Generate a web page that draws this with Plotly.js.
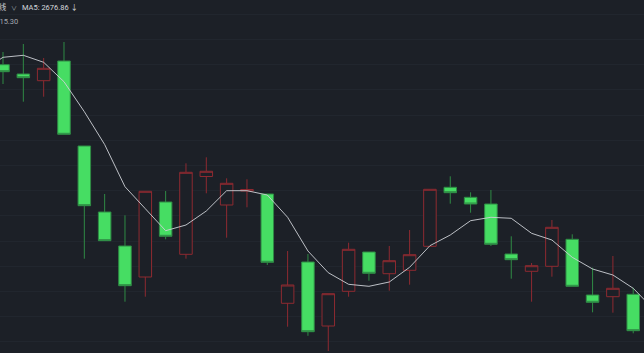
<!DOCTYPE html>
<html>
<head>
<meta charset="utf-8">
<script src="https://cdn.plot.ly/plotly-3.0.1.min.js"></script>
<style>
html,body{margin:0;padding:0;background:#1c2027;}
#chart{width:644px;height:353px;}
</style>
</head>
<body>
<div id="chart"></div>
<script>
// candle positions (session index)
const xIdx = [0,1,2,3,4,5,6,7,8,9,10,11,12,13,14,15,16,17,18,19,20,21,22,23,24,25,26,27,28,29,30,31];
const openP  = [2893.32,2884.32,2877.83,2896.91,2814.62,2750.72,2717.81,2687.80,2760.40,2709.77,2785.09,2757.50,2771.05,2768.15,2662.34,2702.32,2640.36,2673.95,2712.00,2690.99,2694.28,2717.52,2774.63,2764.95,2758.47,2710.06,2693.31,2698.15,2724.29,2670.37,2668.73,2671.05];
const highP  = [2905.62,2913.36,2899.81,2915.30,2814.62,2768.15,2747.53,2770.76,2771.05,2797.87,2803.68,2783.35,2782.38,2768.15,2712.97,2710.06,2671.63,2721.00,2712.00,2717.81,2733.30,2772.70,2785.28,2769.79,2772.02,2727.20,2701.35,2742.98,2729.13,2696.80,2708.13,2677.44];
const lowP   = [2874.64,2857.50,2862.34,2825.94,2705.51,2722.94,2663.88,2668.73,2724.29,2705.51,2768.83,2725.84,2755.27,2699.41,2639.68,2630.87,2616.16,2668.73,2684.21,2674.53,2680.34,2717.52,2758.76,2750.04,2717.81,2686.15,2663.88,2688.09,2678.79,2653.62,2653.24,2633.29];
const closeP = [2886.55,2880.74,2889.84,2825.94,2756.82,2722.94,2679.37,2770.76,2727.20,2789.16,2790.13,2778.51,2772.51,2702.03,2680.05,2634.84,2671.63,2714.61,2691.38,2703.58,2709.38,2772.70,2769.41,2758.47,2719.45,2704.54,2698.74,2735.91,2678.79,2663.30,2676.86,2635.81];

// MA5 line (includes one point beyond each edge)
const maX  = [-1,0,1,2,3,4,5,6,7,8,9,10,11,12,13,14,15,16,17,18,19,20,21,22,23,24,25,26,27,28,29,30,31,32];
const ma5  = [2887.42,2900.49,2902.42,2895.65,2876.87,2847.82,2816.07,2775.22,2753.92,2732.62,2738.14,2751.69,2771.34,2771.34,2767.18,2745.59,2712.97,2691.96,2680.73,2678.79,2682.96,2697.19,2718.10,2728.46,2742.30,2745.59,2744.63,2730.10,2723.62,2706.87,2695.54,2689.73,2676.86,2656.62];

const headerLeft = "K线";
const headerChevron = "∨";
const headerMA = "MA5: 2676.86 ↓";
const maxLabel = "2915.30";

const BG = "#1c2027";
const W = 644, H = 353;

const traces = [
  {
    type: "candlestick",
    x: xIdx, open: openP, high: highP, low: lowP, close: closeP,
    increasing: {line: {color: "#8e2a31", width: 1}, fillcolor: BG},
    decreasing: {line: {color: "#2f8a45", width: 1}, fillcolor: "#46dd63"},
    whiskerwidth: 0,
    hoverinfo: "skip",
    showlegend: false
  },
  {
    type: "scatter", mode: "lines",
    x: maX, y: ma5,
    line: {color: "rgba(205,208,214,0.9)", width: 1},
    hoverinfo: "skip", showlegend: false
  }
];

const fontFam = "Roboto, 'Noto Sans CJK SC', sans-serif";
const layout = {
  width: W, height: H,
  margin: {l: 0, r: 0, t: 0, b: 0, pad: 0},
  paper_bgcolor: BG, plot_bgcolor: BG,
  boxgap: 0.384, boxgroupgap: 0,
  showlegend: false,
  xaxis: {
    range: [-0.1476, 31.53], showgrid: false, zeroline: false,
    showticklabels: false, ticks: "", showline: false,
    rangeslider: {visible: false}, fixedrange: true
  },
  yaxis: {
    range: [2614.22, 2955.96], showgrid: true, gridcolor: "#21262e", gridwidth: 1,
    tick0: 2771.34, dtick: 24.40, tickmode: "linear",
    zeroline: false, showticklabels: false, ticks: "", showline: false, fixedrange: true
  },
  annotations: [
    {xref: "paper", yref: "paper", x: 8.5/W, y: 1 - 7/H, xanchor: "right", yanchor: "middle",
     text: headerLeft, showarrow: false, font: {family: fontFam, size: 7.5, color: "#c9cdd4"}},
    {xref: "paper", yref: "paper", x: 13.5/W, y: 1 - 7/H, xanchor: "center", yanchor: "middle",
     text: headerChevron, showarrow: false, font: {family: fontFam, size: 6, color: "#9aa0a8"}},
    {xref: "paper", yref: "paper", x: 19.5/W, y: 1 - 7/H, xanchor: "left", yanchor: "middle",
     text: headerMA, showarrow: false, font: {family: fontFam, size: 7.5, color: "#d4d7dc"}},
    {xref: "paper", yref: "paper", x: 20/W, y: 1 - 21.5/H, xanchor: "right", yanchor: "middle",
     text: maxLabel, showarrow: false, font: {family: fontFam, size: 7.5, color: "#a3a8b0"}}
  ]
};

Plotly.newPlot("chart", traces, layout, {displayModeBar: false, staticPlot: true});
</script>
</body>
</html>
